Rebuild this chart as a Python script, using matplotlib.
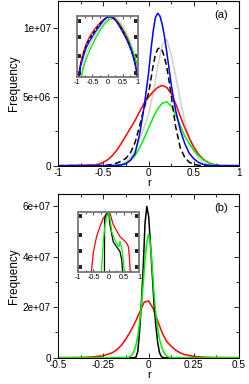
import matplotlib
matplotlib.use('Agg')
import matplotlib.pyplot as plt
import numpy as np

plt.rcParams['font.family'] = ['Liberation Sans', 'DejaVu Sans']
plt.rcParams['axes.unicode_minus'] = False

# panel (a): frequency in units of 1e6
r_a = [-1.0, -0.6, -0.55, -0.5, -0.45, -0.4, -0.35, -0.3, -0.25, -0.2, -0.15, -0.1, -0.05,
       0.0, 0.05, 0.1, 0.15, 0.2, 0.25, 0.3, 0.35, 0.4, 0.45, 0.5, 0.55, 0.6, 0.65,
       0.7, 0.75, 0.8, 1.0]
gray_a = [0, 0, 0, 0, 0, 0, 0, 0.1, 0.3, 0.6, 1.1, 1.9, 2.8,
          3.8, 5.3, 7.2, 8.8, 9.2, 8.1, 6.5, 4.8, 3.2, 2.0, 1.1, 0.55, 0.25, 0.1,
          0.03, 0, 0, 0]
red_a = [0, 0.05, 0.12, 0.25, 0.45, 0.75, 1.15, 1.65, 2.2, 2.75, 3.3, 3.95, 4.55,
         5.0, 5.4, 5.7, 5.85, 5.7, 5.25, 4.5, 3.6, 2.75, 2.0, 1.35, 0.85, 0.5, 0.27,
         0.12, 0.05, 0, 0]
green_a = [0, 0, 0, 0, 0, 0, 0.03, 0.08, 0.18, 0.4, 0.75, 1.3, 2.0,
           2.75, 3.5, 4.15, 4.55, 4.65, 4.35, 3.7, 2.9, 2.15, 1.6, 1.1, 0.75, 0.45, 0.25,
           0.1, 0.04, 0, 0]

# narrower curves of panel (a), read on a finer grid
r_a2 = [-1.0, -0.5, -0.45, -0.4, -0.35, -0.3, -0.25, -0.2, -0.15, -0.1, -0.05, 0.0,
        0.025, 0.05, 0.075, 0.1, 0.125, 0.15, 0.175, 0.2, 0.225, 0.25, 0.275, 0.3,
        0.35, 0.4, 0.45, 0.5, 0.55, 0.6, 0.65, 0.7, 1.0]
blue_a = [0, 0, 0, 0.01, 0.03, 0.06, 0.15, 0.4, 0.9, 2.3, 4.3, 6.8,
          8.4, 9.8, 10.8, 11.1, 10.9, 10.3, 9.4, 8.3, 7.1, 5.9, 4.9, 4.0,
          2.6, 1.6, 0.9, 0.5, 0.25, 0.1, 0.04, 0.01, 0]
black_a = [0, 0.02, 0.05, 0.1, 0.2, 0.33, 0.55, 0.95, 1.7, 2.9, 4.2, 5.3,
           6.3, 7.3, 8.1, 8.5, 8.6, 8.4, 7.9, 7.2, 6.2, 5.1, 3.9, 2.8,
           1.3, 0.6, 0.25, 0.1, 0.03, 0, 0, 0, 0]

# inset (a): relative height on the inset's log scale (0 = bottom, 1 = top)
ri_a = [-1.0, -0.95, -0.9, -0.8, -0.7, -0.6, -0.5, -0.4, -0.3, -0.2, -0.1, 0.0,
        0.1, 0.2, 0.3, 0.4, 0.5, 0.6, 0.7, 0.8, 0.9, 0.95, 1.0]
blue_ia = [-0.4, -0.15, 0.15, 0.33, 0.48, 0.58, 0.66, 0.74, 0.81, 0.88, 0.94, 0.98,
           0.99, 0.96, 0.9, 0.82, 0.73, 0.64, 0.53, 0.4, 0.22, 0.1, -0.05]
red_ia = [-0.3, 0.0, 0.2, 0.4, 0.55, 0.65, 0.73, 0.8, 0.86, 0.91, 0.95, 0.98,
          0.99, 0.97, 0.92, 0.85, 0.77, 0.67, 0.56, 0.42, 0.25, 0.12, -0.05]
black_ia = [-0.35, -0.03, 0.17, 0.37, 0.52, 0.62, 0.7, 0.77, 0.84, 0.9, 0.95, 0.985,
            0.99, 0.96, 0.91, 0.84, 0.76, 0.66, 0.55, 0.41, 0.24, 0.11, -0.05]
gray_ia = [-0.6, -0.35, -0.1, 0.2, 0.37, 0.5, 0.6, 0.69, 0.77, 0.84, 0.9, 0.94,
           0.97, 0.98, 0.96, 0.91, 0.84, 0.75, 0.64, 0.5, 0.33, 0.22, 0.1]
green_ia = [-0.6, -0.35, -0.1, 0.15, 0.3, 0.42, 0.53, 0.63, 0.72, 0.8, 0.87, 0.92,
            0.95, 0.96, 0.93, 0.87, 0.79, 0.7, 0.6, 0.47, 0.33, 0.24, 0.15]

# panel (b): frequency in units of 1e7
r_b_red = [-0.5, -0.4, -0.35, -0.3, -0.25, -0.2, -0.175, -0.15, -0.125, -0.1, -0.075, -0.05,
           -0.025, 0.0, 0.025, 0.05, 0.075, 0.1, 0.125, 0.15, 0.175, 0.2, 0.25, 0.3,
           0.35, 0.4, 0.5]
red_b = [0, 0.005, 0.015, 0.035, 0.08, 0.2, 0.32, 0.5, 0.75, 1.05, 1.4, 1.8,
         2.2, 2.25, 1.95, 1.45, 0.98, 0.64, 0.45, 0.3, 0.19, 0.12, 0.05, 0.02,
         0.008, 0.003, 0]
r_b = [-0.5, -0.12, -0.11, -0.1, -0.09, -0.08, -0.07, -0.06, -0.05, -0.04, -0.03, -0.02, -0.01,
       0.0, 0.01, 0.02, 0.03, 0.04, 0.05, 0.06, 0.07, 0.08, 0.09, 0.1, 0.11, 0.12, 0.5]
black_b = [0, 0, 0, 0, 0, 0, 0.02, 0.25, 1.05, 2.2, 3.6, 5.35, 6.0,
           5.6, 4.5, 3.3, 2.1, 1.25, 0.6, 0.2, 0.05, 0, 0, 0, 0, 0, 0]
green_b = [0, 0, 0.02, 0.06, 0.14, 0.28, 0.5, 0.85, 1.4, 2.1, 2.95, 3.9, 4.6,
           4.9, 4.5, 3.6, 2.5, 1.7, 1.15, 0.75, 0.48, 0.28, 0.15, 0.07, 0.03, 0, 0]

# inset (b)
ri_b_red = [-0.62, -0.57, -0.5, -0.4, -0.3, -0.18, -0.1, 0.0, 0.05, 0.15, 0.25, 0.37,
            0.45, 0.54, 0.6, 0.65, 0.68, 0.72]
red_ib = [-0.2, 0.0, 0.34, 0.59, 0.74, 0.9, 0.95, 1.0, 0.97, 0.79, 0.7, 0.59,
          0.55, 0.51, 0.47, 0.42, 0.25, -0.1]
ri_b_green = [-0.26, -0.23, -0.18, -0.12, -0.05, 0.0, 0.04, 0.1, 0.2, 0.26, 0.34, 0.37,
              0.4, 0.43, 0.48, 0.53]
green_ib = [-0.1, 0.08, 0.5, 0.79, 0.95, 1.0, 0.9, 0.67, 0.53, 0.48, 0.42, 0.51,
            0.45, 0.39, 0.2, -0.1]
ri_b_black = [-0.14, -0.135, -0.1, -0.05, 0.0, 0.04, 0.15, 0.26, 0.37, 0.43, 0.47]
black_ib = [-0.1, 0.88, 0.95, 0.98, 1.0, 0.79, 0.5, 0.42, 0.34, 0.2, -0.1]

inset_ticks_a = [0.07, 0.34, 0.66, 0.91]
inset_ticks_b = [0.08, 0.34, 0.62, 0.93]

BLUE, RED, GREEN, GRAY = '#0000ff', '#ff0000', '#00ee00', '#d0d0d0'
lw = 1.1

fig = plt.figure(figsize=(2.49, 3.84), dpi=100)
ax1 = fig.add_axes([0.234, 0.5685, 0.726, 0.429])
ax2 = fig.add_axes([0.234, 0.0685, 0.726, 0.427])


def style_main(ax, xt, xmin, yt, ymin):
    ax.set_xticks(xt)
    ax.set_xticks(xmin, minor=True)
    ax.set_yticks(yt)
    ax.set_yticks(ymin, minor=True)
    ax.tick_params(axis='x', which='both', direction='in', labelsize=7.2, pad=2)
    ax.tick_params(axis='y', which='both', direction='out', labelsize=7.2, pad=1.5)
    ax.tick_params(which='major', length=3.8, width=0.6)
    ax.tick_params(which='minor', length=2.2, width=0.6)
    for s in ax.spines.values():
        s.set_linewidth(0.7)
    top = ax.secondary_xaxis('top')
    top.set_xticks(xt)
    top.set_xticks(xmin, minor=True)
    top.tick_params(which='both', direction='in', labeltop=False, width=0.6)
    top.tick_params(which='major', length=3.8)
    top.tick_params(which='minor', length=2.2)
    right = ax.secondary_yaxis('right')
    right.set_yticks(yt)
    right.set_yticks(ymin, minor=True)
    right.tick_params(which='both', direction='in', labelright=False, width=0.6)
    right.tick_params(which='major', length=3.8)
    right.tick_params(which='minor', length=2.2)
    ax.set_xlabel('r', fontsize=8, labelpad=0)
    ax.set_ylabel('Frequency', fontsize=8.5, labelpad=2)


def style_inset(ax, yt):
    ax.set_xlim(-1, 1)
    ax.set_ylim(0, 1)
    ax.set_xticks([-1, -0.5, 0, 0.5, 1])
    ax.set_xticklabels(['-1', '-0.5', '0', '0.5', '1'])
    ax.set_xticks([-0.75, -0.25, 0.25, 0.75], minor=True)
    ax.tick_params(axis='x', which='both', direction='in', top=True, labelsize=5.2,
                   pad=1.5, length=2.5, width=0.5)
    ax.tick_params(axis='x', which='minor', length=1.5)
    ax.set_yticks(yt)
    ax.tick_params(axis='y', direction='in', left=True, right=True, labelleft=False,
                   length=2.8, width=2.8, color='#222222')
    for s in ax.spines.values():
        s.set_linewidth(1.3)
        s.set_edgecolor('#777777')


# panel (a)
ax1.plot(r_a, np.array(gray_a) * 1e6, color=GRAY, lw=lw)
ax1.plot(r_a, np.array(red_a) * 1e6, color=RED, lw=lw)
ax1.plot(r_a, np.array(green_a) * 1e6, color=GREEN, lw=lw)
ax1.plot(r_a2, np.array(black_a) * 1e6, color='black', lw=lw, dashes=(4, 2.2))
ax1.plot(r_a2, np.array(blue_a) * 1e6, color=BLUE, lw=lw)
ax1.set_xlim(-1, 1)
ax1.set_ylim(0, 1.2e7)
style_main(ax1, [-1, -0.5, 0, 0.5, 1], [-0.75, -0.25, 0.25, 0.75],
           [0, 5e6, 1e7], [2.5e6, 7.5e6])
ax1.set_xticklabels(['-1', '-0.5', '0', '0.5', '1'])
ax1.set_yticklabels(['0', '5e+06', '1e+07'])
ax1.text(0.94, 0.945, '(a)', transform=ax1.transAxes, ha='right', va='top', fontsize=8)

ins1 = fig.add_axes([0.31, 0.7995, 0.244, 0.159])
ins1.plot(ri_a, gray_ia, color=GRAY, lw=0.9)
ins1.plot(ri_a, green_ia, color=GREEN, lw=0.9)
ins1.plot(ri_a, red_ia, color=RED, lw=0.9)
ins1.plot(ri_a, black_ia, color='black', lw=0.9, dashes=(3, 1.5))
ins1.plot(ri_a, blue_ia, color=BLUE, lw=0.9)
style_inset(ins1, inset_ticks_a)

# panel (b)
ax2.plot(r_b_red, np.array(red_b) * 1e7, color=RED, lw=lw)
ax2.plot(r_b, np.array(black_b) * 1e7, color='black', lw=lw)
ax2.plot(r_b, np.array(green_b) * 1e7, color=GREEN, lw=lw)
ax2.set_xlim(-0.5, 0.5)
ax2.set_ylim(0, 6.5e7)
style_main(ax2, [-0.5, -0.25, 0, 0.25, 0.5], [-0.375, -0.125, 0.125, 0.375],
           [0, 2e7, 4e7, 6e7], [1e7, 3e7, 5e7])
ax2.set_xticklabels(['-0.5', '-0.25', '0', '0.25', '0.5'])
ax2.set_yticklabels(['0', '2e+07', '4e+07', '6e+07'])
ax2.text(0.94, 0.945, '(b)', transform=ax2.transAxes, ha='right', va='top', fontsize=8)

ins2 = fig.add_axes([0.3145, 0.2924, 0.244, 0.155])
ins2.plot(ri_b_red, red_ib, color=RED, lw=0.9)
ins2.plot(ri_b_black, black_ib, color='black', lw=0.9)
ins2.plot(ri_b_green, green_ib, color=GREEN, lw=0.9)
style_inset(ins2, inset_ticks_b)

fig.savefig('out.png', dpi=100)
